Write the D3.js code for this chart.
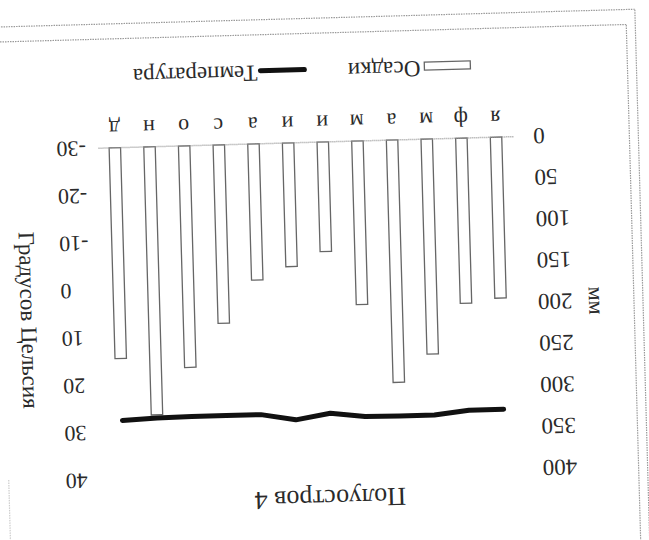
<!DOCTYPE html>
<html><head><meta charset="utf-8">
<script src="https://cdn.jsdelivr.net/npm/d3@7"></script>
<style>html,body{margin:0;padding:0;background:#fff;}svg{display:block;}</style>
</head><body>
<svg id="c" width="649" height="540"></svg>
<script>
const months = ['я','ф','м','а','м','и','и','а','с','о','н','д'];
const precipitation = [194, 199, 259, 292, 197, 132, 149, 164, 215, 267, 323, 254];
const temperature = [27.4, 27.4, 28.2, 28.2, 28.1, 27.2, 28.4, 27.1, 27.1, 27.1, 27.2, 27.5];
const precipTicks = [0, 50, 100, 150, 200, 250, 300, 350, 400];
const tempTicks = [-30, -20, -10, 0, 10, 20, 30, 40];
const title = 'Полуостров 4';
const leftTitle = 'мм';
const rightTitle = 'Градусов Цельсия';
const seriesNames = ['Осадки', 'Температура'];

const W = 649, H = 540;
const svg = d3.select('#c');
const font = '"Liberation Serif", "Times New Roman", serif';
const ink = '#2a2a2a';

// whole chart is photographed upside down and slightly tilted
const root = svg.append('g').attr('transform', `rotate(178.4, ${W/2}, ${H/2})`);

// photo frame lines
const frame = root.append('g').attr('stroke', '#999').attr('stroke-width', 1.2)
  .attr('stroke-dasharray', '1.5,1').attr('fill', 'none');
frame.append('line').attr('x1', 16).attr('x2', 16).attr('y1', -20).attr('y2', 507);
frame.append('line').attr('x1', 7).attr('x2', 7).attr('y1', -20).attr('y2', 522);
frame.append('line').attr('x1', 16).attr('x2', 670).attr('y1', 507).attr('y2', 507);
frame.append('line').attr('x1', 7).attr('x2', 670).attr('y1', 522).attr('y2', 522);
frame.append('line').attr('x1', 646).attr('x2', 646).attr('y1', -20).attr('y2', 70)
  .attr('stroke', '#ccc');

const plot = {left: 132, right: 548, top: 66, bottom: 398};

const x = d3.scaleBand().domain(d3.range(months.length))
  .range([plot.left, plot.right]).paddingInner(0.67).paddingOuter(0.335);
const yP = d3.scaleLinear().domain([0, 400]).range([plot.bottom, plot.top]);
const yT = d3.scaleLinear().domain([-30, 40]).range([plot.bottom, plot.top]);

// bars
root.append('g').selectAll('rect').data(precipitation).join('rect')
  .attr('x', (d, i) => x(i)).attr('width', x.bandwidth())
  .attr('y', d => yP(d)).attr('height', d => yP(0) - yP(d))
  .attr('fill', '#fff').attr('stroke', '#666').attr('stroke-width', 1.3);

// baseline (category axis)
root.append('line').attr('x1', plot.left).attr('x2', plot.right)
  .attr('y1', yP(0)).attr('y2', yP(0))
  .attr('stroke', '#999').attr('stroke-width', 1.5).attr('stroke-dasharray', '1,1');

// temperature line
const line = d3.line().x((d, i) => x(i) + x.bandwidth()/2).y(d => yT(d)).curve(d3.curveLinear);
root.append('path').datum(temperature).attr('d', line)
  .attr('fill', 'none').attr('stroke', '#111').attr('stroke-width', 5)
  .attr('stroke-linecap', 'round').attr('stroke-linejoin', 'round');

// left axis (precipitation)
const axL = d3.axisLeft(yP).tickValues(precipTicks).tickSize(0).tickPadding(20);
const gL = root.append('g').attr('transform', `translate(${plot.left},0)`).call(axL);
gL.select('.domain').remove();
gL.selectAll('text').attr('font-family', font).attr('font-size', 23).attr('fill', ink);

// right axis (temperature), labels right-aligned
const axR = d3.axisRight(yT).tickValues(tempTicks).tickSize(0).tickPadding(41)
  .tickFormat(d => d < 0 ? '-' + Math.abs(d) : String(d));
const gR = root.append('g').attr('transform', `translate(${plot.right},0)`).call(axR);
gR.select('.domain').remove();
gR.selectAll('text').attr('font-family', font).attr('font-size', 22).attr('fill', ink)
  .attr('text-anchor', 'end');

// category axis labels
const axB = d3.axisBottom(x).tickSize(0).tickPadding(11).tickFormat(i => months[i]);
const gB = root.append('g').attr('transform', `translate(0,${plot.bottom})`).call(axB);
gB.select('.domain').remove();
gB.selectAll('text').attr('font-family', font).attr('font-size', 22).attr('fill', ink);

// axis titles
root.append('text').attr('transform', `translate(56,${(plot.top+plot.bottom)/2}) rotate(-90)`)
  .attr('text-anchor', 'middle').attr('dominant-baseline', 'middle')
  .attr('font-family', font).attr('font-size', 22).attr('fill', ink).text(leftTitle);
root.append('text').attr('transform', `translate(624,${(plot.top+plot.bottom)/2 - 4}) rotate(-90)`)
  .attr('text-anchor', 'middle').attr('dominant-baseline', 'middle')
  .attr('font-family', font).attr('font-size', 23).attr('fill', ink).text(rightTitle);

// title
root.append('text').attr('x', 325).attr('y', 44)
  .attr('text-anchor', 'middle').attr('dominant-baseline', 'middle')
  .attr('font-family', font).attr('font-size', 26).attr('fill', ink).text(title);

// legend
const lg = root.append('g').attr('transform', 'translate(-5,471)');
lg.append('rect').attr('x', 178).attr('y', -4).attr('width', 46).attr('height', 8)
  .attr('fill', '#fff').attr('stroke', '#666').attr('stroke-width', 1.3);
lg.append('text').attr('x', 228).attr('y', 0).attr('dominant-baseline', 'middle')
  .attr('font-family', font).attr('font-size', 23).attr('fill', ink).text(seriesNames[0]);
lg.append('line').attr('x1', 344).attr('x2', 388).attr('y1', 0).attr('y2', 0)
  .attr('stroke', '#111').attr('stroke-width', 5).attr('stroke-linecap', 'round');
lg.append('text').attr('x', 391).attr('y', 0).attr('dominant-baseline', 'middle')
  .attr('font-family', font).attr('font-size', 23).attr('fill', ink).text(seriesNames[1]);
</script>
</body></html>
